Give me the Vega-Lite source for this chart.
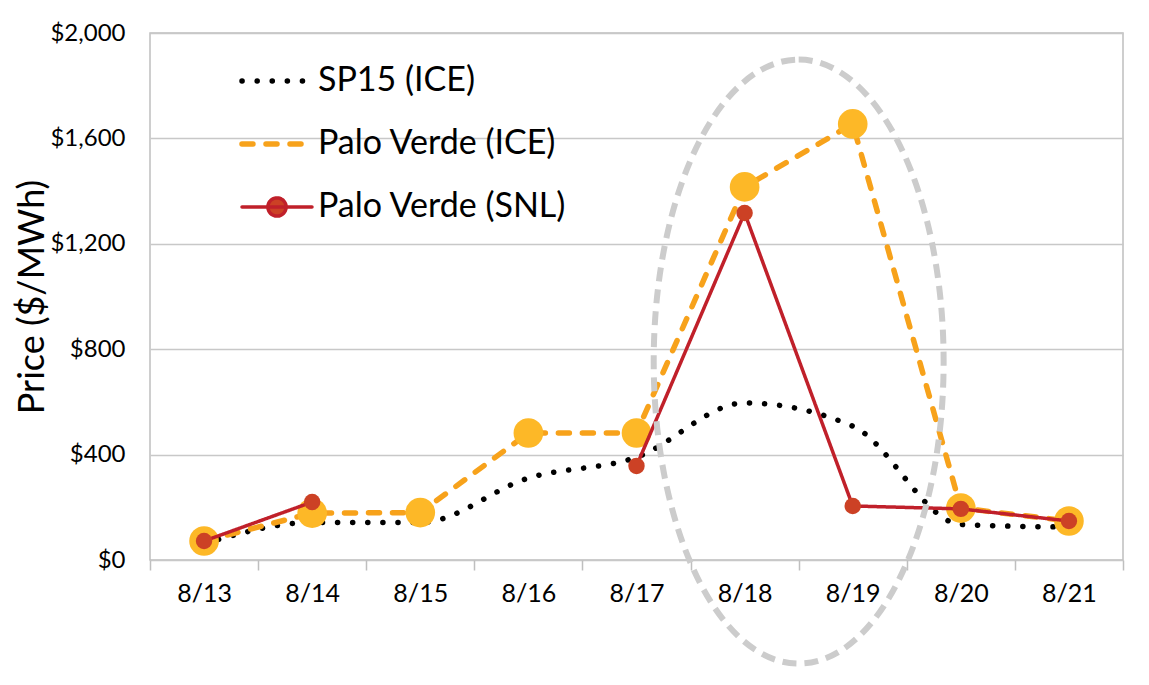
{
  "$schema": "https://vega.github.io/schema/vega-lite/v6.json",
  "width": 973,
  "height": 527,
  "autosize": {"type": "none"},
  "padding": {"left": 150, "top": 33, "right": 26, "bottom": 125},
  "background": "white",
  "config": {
    "font": "Lato",
    "view": {"stroke": "#BFBFBF", "strokeWidth": 1.5},
    "axis": {"labelFont": "Lato", "titleFont": "Lato", "labelColor": "#000", "titleColor": "#000"}
  },
  "datasets": {
    "prices": [
      {"date": "8/13", "series": "SP15 (ICE)", "price": 62},
      {"date": "8/14", "series": "SP15 (ICE)", "price": 142},
      {"date": "8/15", "series": "SP15 (ICE)", "price": 142},
      {"date": "8/16", "series": "SP15 (ICE)", "price": 311},
      {"date": "8/17", "series": "SP15 (ICE)", "price": 390},
      {"date": "8/18", "series": "SP15 (ICE)", "price": 596},
      {"date": "8/19", "series": "SP15 (ICE)", "price": 508},
      {"date": "8/20", "series": "SP15 (ICE)", "price": 135},
      {"date": "8/21", "series": "SP15 (ICE)", "price": 125},
      {"date": "8/13", "series": "Palo Verde (ICE)", "price": 72},
      {"date": "8/14", "series": "Palo Verde (ICE)", "price": 178},
      {"date": "8/15", "series": "Palo Verde (ICE)", "price": 180},
      {"date": "8/16", "series": "Palo Verde (ICE)", "price": 482},
      {"date": "8/17", "series": "Palo Verde (ICE)", "price": 482},
      {"date": "8/18", "series": "Palo Verde (ICE)", "price": 1416},
      {"date": "8/19", "series": "Palo Verde (ICE)", "price": 1655},
      {"date": "8/20", "series": "Palo Verde (ICE)", "price": 197},
      {"date": "8/21", "series": "Palo Verde (ICE)", "price": 148},
      {"date": "8/13", "series": "Palo Verde (SNL)", "price": 72},
      {"date": "8/14", "series": "Palo Verde (SNL)", "price": 220},
      {"date": "8/15", "series": "Palo Verde (SNL)", "price": null},
      {"date": "8/16", "series": "Palo Verde (SNL)", "price": null},
      {"date": "8/17", "series": "Palo Verde (SNL)", "price": 357},
      {"date": "8/18", "series": "Palo Verde (SNL)", "price": 1317},
      {"date": "8/19", "series": "Palo Verde (SNL)", "price": 205},
      {"date": "8/20", "series": "Palo Verde (SNL)", "price": 194},
      {"date": "8/21", "series": "Palo Verde (SNL)", "price": 148}
    ],
    "highlight": [
      {"date": "8/18", "price": 753}
    ]
  },
  "data": {"name": "prices"},
  "encoding": {
    "x": {
      "field": "date", "type": "ordinal", "sort": null,
      "scale": {"type": "band", "paddingInner": 0, "paddingOuter": 0},
      "axis": {
        "title": null, "labelAngle": 0, "labelFontSize": 25, "labelPadding": 11,
        "tickBand": "extent", "ticks": true, "tickSize": 10, "tickColor": "#BFBFBF", "tickWidth": 1.5,
        "domain": false, "grid": false
      }
    },
    "y": {
      "field": "price", "type": "quantitative",
      "scale": {"domain": [0, 2000], "nice": false},
      "axis": {
        "title": "Price ($/MWh)", "titleFontSize": 36, "titleFontWeight": "normal", "titlePadding": -2,
        "values": [0, 400, 800, 1200, 1600, 2000], "format": "$,.0f",
        "labelFontSize": 24, "labelPadding": 25, "ticks": false, "domain": false,
        "grid": true, "gridColor": "#C8C8C8", "gridWidth": 1.5
      }
    }
  },
  "layer": [
    {
      "transform": [{"filter": "datum.series === 'SP15 (ICE)'"}],
      "mark": {"type": "line", "interpolate": "monotone", "strokeCap": "round", "strokeWidth": 5.5},
      "encoding": {
        "color": {
          "field": "series", "type": "nominal",
          "scale": {"domain": ["SP15 (ICE)", "Palo Verde (ICE)", "Palo Verde (SNL)"], "range": ["#000000", "#F7A21B", "#C0202A"]},
          "legend": {
            "orient": "none", "legendX": 89, "legendY": 10, "title": null, "padding": 0,
            "symbolType": "stroke", "symbolSize": 4900, "symbolStrokeWidth": 5,
            "labelFont": "Lato", "labelFontSize": 34, "labelColor": "#000", "labelOffset": 3,
            "rowPadding": 8, "labelLimit": 400,
            "encode": {
              "symbols": {
                "update": {
                  "shape": {"signal": "(datum.value === 'Palo Verde (SNL)' ? 'M-1,0H1M-0.26,0A0.26,0.26,0,1,1,0.26,0A0.26,0.26,0,1,1,-0.26,0Z' : 'stroke')"},
                  "fill": {"signal": "(datum.value === 'Palo Verde (SNL)' ? '#CC4125' : 'transparent')"},
                  "strokeWidth": {"signal": "(datum.value === 'Palo Verde (SNL)' ? 3.5 : 5.5)"},
                  "strokeDash": {"signal": "(datum.value === 'SP15 (ICE)' ? [0.1, 15] : (datum.value === 'Palo Verde (ICE)' ? [11, 13] : [1, 0]))"},
                  "strokeCap": {"value": "round"}
                }
              }
            }
          }
        },
        "strokeDash": {
          "field": "series", "type": "nominal",
          "scale": {"domain": ["SP15 (ICE)", "Palo Verde (ICE)", "Palo Verde (SNL)"], "range": [[0.1, 15], [11, 13], [1, 0]]},
          "legend": null
        }
      }
    },
    {
      "transform": [{"filter": "datum.series === 'Palo Verde (ICE)'"}],
      "mark": {"type": "line", "strokeCap": "round", "strokeWidth": 5.5},
      "encoding": {
        "color": {"field": "series", "type": "nominal"},
        "strokeDash": {"field": "series", "type": "nominal", "legend": null}
      }
    },
    {
      "transform": [{"filter": "datum.series === 'Palo Verde (ICE)'"}],
      "mark": {"type": "point", "filled": true, "opacity": 1, "size": 880, "color": "#FDB827"},
      "encoding": {}
    },
    {
      "transform": [{"filter": "datum.series === 'Palo Verde (SNL)'"}],
      "mark": {"type": "line", "invalid": "break-paths-show-domains", "strokeWidth": 3.5},
      "encoding": {
        "color": {"field": "series", "type": "nominal"},
        "strokeDash": {"field": "series", "type": "nominal", "legend": null}
      }
    },
    {
      "transform": [{"filter": "datum.series === 'Palo Verde (SNL)' && datum.price != null"}],
      "mark": {"type": "point", "filled": true, "opacity": 1, "size": 270, "color": "#CC4125"},
      "encoding": {}
    },
    {
      "data": {"name": "highlight"},
      "mark": {
        "type": "point", "filled": false, "opacity": 1,
        "shape": "M0,-1A0.48,1,0,1,1,0,1A0.48,1,0,1,1,0,-1Z",
        "size": 364816, "stroke": "#CCCCCC", "strokeWidth": 6, "strokeDash": [14, 8]
      },
      "encoding": {
        "x": {"field": "date", "type": "ordinal", "bandPosition": 1}
      }
    }
  ]
}
